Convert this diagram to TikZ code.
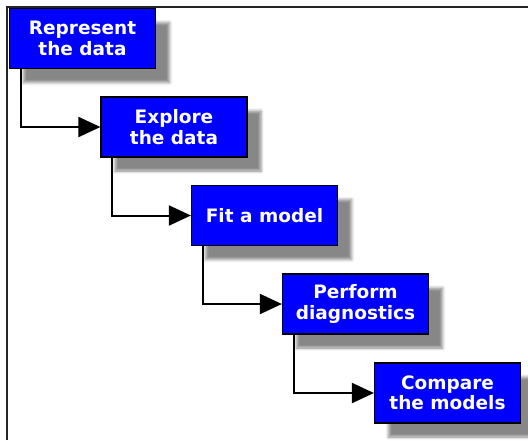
\documentclass[tikz,border=0pt]{standalone}
\usepackage{fontspec}
\setmainfont{DejaVu Sans}
\usetikzlibrary{arrows.meta,shadows.blur}
\definecolor{boxblue}{RGB}{0,0,255}

\tikzset{
  stepbox/.style={rectangle,draw=black,line width=1.2pt,fill=boxblue,
    text=white,font=\fontsize{18.5}{20.5}\selectfont\bfseries,align=center,
    minimum width=146pt,minimum height=60pt,inner sep=0pt,
    blur shadow={shadow xshift=14pt,shadow yshift=-14pt,
      shadow blur radius=3pt,shadow opacity=47}},
  flow/.style={line width=2pt,-{Triangle[length=22pt,width=20pt]}}
}

\begin{document}
\begin{tikzpicture}[x=1pt,y=-1pt]
    \useasboundingbox (0,0) rectangle (528,440);

    % page frame, only top and left edge show
    \draw[line width=2.5pt,black!85] (7,440) |- (528,7);

    \node[stepbox](w0) at (82.5,38.5) {Represent\\the data};
    \node[stepbox](w1) at (174,127) {Explore\\the data};
    \node[stepbox](w2) at (264.5,215.5) {Fit a model};
    \node[stepbox](w3) at (355.5,304) {Perform\\diagnostics};
    \node[stepbox](w4) at (447.5,393) {Compare\\the models};

    \draw[flow] ([xshift=12pt]w0.south west) |- (w1.west);
    \draw[flow] ([xshift=12pt]w1.south west) |- (w2.west);
    \draw[flow] ([xshift=12pt]w2.south west) |- (w3.west);
    \draw[flow] ([xshift=12pt]w3.south west) |- (w4.west);

\end{tikzpicture}
\end{document}
